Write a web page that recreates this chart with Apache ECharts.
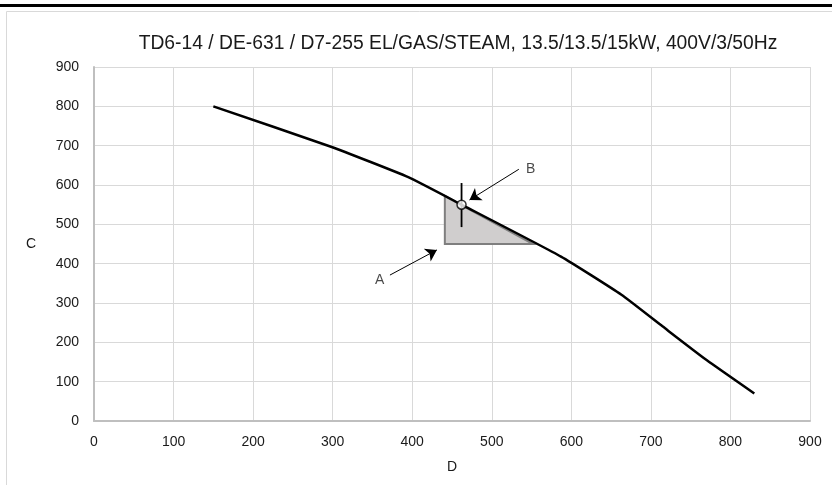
<!DOCTYPE html>
<html><head><meta charset="utf-8">
<script src="https://cdn.jsdelivr.net/npm/echarts@6/dist/echarts.min.js"></script>
<style>html,body{margin:0;padding:0;background:#fff}#c{width:832px;height:485px}</style>
</head><body><div id="c"></div>
<script>
var titleText = 'TD6-14 / DE-631 / D7-255 EL/GAS/STEAM, 13.5/13.5/15kW, 400V/3/50Hz';
var curveX = [150, 297, 395, 463, 587, 663, 715, 770, 830];
var curveY = [800, 698, 620, 549, 418, 321, 240, 155, 70];
var triX = [441, 441, 552];
var triY = [572, 450, 450];
var pointB = [462, 550];
var crossX = [462, 462];
var crossY = [493, 605];
var arrowA = [[372, 371], [431, 435]];
var arrowB = [[534, 640], [472, 562]];
var labelA = [359, 357];
var labelB = [549, 640];
var xName = 'D', yName = 'C';

var font = 'Liberation Sans';
var chart = echarts.init(document.getElementById('c'));
var curve = curveX.map(function (x, i) { return [x, curveY[i]]; });
var tri = triX.map(function (x, i) { return [x, triY[i]]; });
var cross = crossX.map(function (x, i) { return [x, crossY[i]]; });

chart.setOption({
  animation: false,
  title: {
    text: titleText, left: 453, top: 29, textAlign: 'center',
    textStyle: { fontFamily: font, fontSize: 19.3, fontWeight: 'normal', color: '#1a1a1a' }
  },
  graphic: [
    { type: 'rect', shape: { x: 0, y: 4, width: 832, height: 3 }, style: { fill: '#000' }, z: 100 },
    { type: 'rect', shape: { x: 6.5, y: 11.5, width: 900, height: 600 }, style: { fill: 'none', stroke: '#d9d9d9', lineWidth: 1 }, z: 100 }
  ],
  grid: { left: 94, right: 22, top: 67, bottom: 64 },
  xAxis: {
    type: 'value', min: 0, max: 900, interval: 100,
    name: xName, nameLocation: 'middle', nameGap: 39,
    nameTextStyle: { fontFamily: font, fontSize: 14, color: '#1a1a1a' },
    axisLine: { lineStyle: { color: '#bfbfbf', width: 2 } },
    axisTick: { show: false },
    axisLabel: { fontFamily: font, fontSize: 14, color: '#1a1a1a', margin: 14 },
    splitLine: { lineStyle: { color: '#d9d9d9', width: 1 } }
  },
  yAxis: {
    type: 'value', min: 0, max: 900, interval: 100,
    name: yName, nameLocation: 'middle', nameGap: 58, nameRotate: 0,
    nameTextStyle: { fontFamily: font, fontSize: 14, color: '#1a1a1a' },
    axisLine: { show: true, lineStyle: { color: '#bfbfbf', width: 2 } },
    axisTick: { show: false },
    axisLabel: { fontFamily: font, fontSize: 14, color: '#1a1a1a', margin: 15 },
    splitLine: { lineStyle: { color: '#d9d9d9', width: 1 } }
  },
  series: [
    {
      type: 'custom', z: 2,
      data: [0],
      renderItem: function (params, api) {
        var pts = tri.map(function (p) { return api.coord(p); });
        return {
          type: 'polygon',
          shape: { points: pts },
          style: { fill: '#d0cece', stroke: '#7f7f7f', lineWidth: 2 }
        };
      }
    },
    {
      type: 'line', data: curve, smooth: 0.15, showSymbol: false, z: 3,
      lineStyle: { color: '#000', width: 2.5 }
    },
    {
      type: 'line', data: cross, showSymbol: false, z: 4,
      lineStyle: { color: '#000', width: 1.8 }
    },
    {
      type: 'scatter', data: [pointB], symbol: 'circle', symbolSize: 9, z: 5,
      itemStyle: { color: '#fff', borderColor: '#000', borderWidth: 1.5 }
    },
    {
      type: 'lines', coordinateSystem: 'cartesian2d', z: 5,
      symbol: ['none', 'arrow'], symbolSize: 11,
      lineStyle: { color: '#000', width: 1, opacity: 1 },
      data: [{ coords: arrowA }, { coords: arrowB }]
    },
    {
      type: 'scatter', symbolSize: 0, z: 6,
      data: [
        { value: labelA, label: { formatter: 'A' } },
        { value: labelB, label: { formatter: 'B' } }
      ],
      label: { show: true, position: 'inside', fontFamily: font, fontSize: 14, color: '#1a1a1a' }
    }
  ]
});
</script></body></html>
